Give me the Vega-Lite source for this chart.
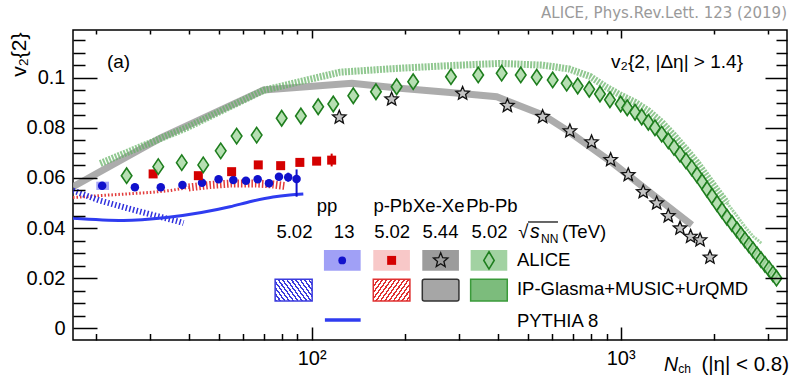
{
"$schema":"https://vega.github.io/schema/vega-lite/v6.json",
"width":714,"height":310,
"autosize":{"type":"none"},
"padding":{"left":73,"top":30,"right":5,"bottom":37},
"background":"white",
"title":{"text":"ALICE, Phys.Rev.Lett. 123 (2019)","anchor":"end","frame":"group","font":"DejaVu Sans","fontSize":15,"fontWeight":"normal","color":"#9a9a9a","baseline":"alphabetic","offset":11,"dy":15},
"config":{"view":{"stroke":"#000000","strokeWidth":1.5},"axis":{"grid":false,"domain":false,"labelFont":"Liberation Sans","titleFont":"Liberation Sans","labelColor":"#000000","titleColor":"#000000","tickColor":"#000000","tickWidth":1.5,"titleFontWeight":"normal"},"text":{"font":"Liberation Sans","color":"#000000"}},
"resolve":{"axis":{"x":"independent","y":"independent"}},
"datasets":{
"XeModel":[{"N":16.9,"v":0.0565},{"N":32.5,"v":0.076},{"N":70,"v":0.0951},{"N":135,"v":0.0978},{"N":193,"v":0.0958},{"N":287,"v":0.094},{"N":397,"v":0.0924},{"N":562,"v":0.0851},{"N":669,"v":0.0791},{"N":946,"v":0.0658},{"N":1275,"v":0.0532},{"N":1700,"v":0.0412}],
"PbModel":[{"N":20.7,"v":0.0658},{"N":39.4,"v":0.08},{"N":70,"v":0.095},{"N":123.5,"v":0.1022},{"N":188,"v":0.1037},{"N":300,"v":0.105},{"N":407,"v":0.1057},{"N":560,"v":0.105},{"N":680,"v":0.1035},{"N":796,"v":0.1005},{"N":900,"v":0.0962},{"N":1000,"v":0.093},{"N":1113,"v":0.0902},{"N":1229,"v":0.0868},{"N":1358,"v":0.0822},{"N":1488,"v":0.077},{"N":1627,"v":0.0715},{"N":1766,"v":0.0662},{"N":1903,"v":0.0607},{"N":2050,"v":0.0552},{"N":2208,"v":0.05},{"N":2379,"v":0.0448},{"N":2525,"v":0.0405},{"N":2681,"v":0.0367},{"N":2852,"v":0.034}],
"pPbModel":[{"N":16.9,"v":0.0522},{"N":21,"v":0.053},{"N":30,"v":0.0542},{"N":35,"v":0.055},{"N":40,"v":0.0562},{"N":47,"v":0.0572},{"N":55,"v":0.0578},{"N":66,"v":0.0578},{"N":75,"v":0.0574},{"N":82,"v":0.0568}],
"ppModel":[{"N":16.9,"v":0.055},{"N":20.6,"v":0.051},{"N":25.2,"v":0.048},{"N":30.7,"v":0.0452},{"N":36.6,"v":0.0428},{"N":38.5,"v":0.042}],
"pythia":[{"N":16.9,"v":0.0439},{"N":24.6,"v":0.043},{"N":33.9,"v":0.0442},{"N":44,"v":0.0462},{"N":54.4,"v":0.0485},{"N":64,"v":0.0507},{"N":75,"v":0.0524},{"N":85,"v":0.0532},{"N":94,"v":0.0536}],
"pp13":[{"N":21,"v":0.0569,"lo":0.0561,"hi":0.0577},{"N":26.8,"v":0.0563,"lo":0.0558,"hi":0.0568},{"N":32.5,"v":0.0563,"lo":0.0558,"hi":0.0568},{"N":38.2,"v":0.0572,"lo":0.0567,"hi":0.0577},{"N":44.2,"v":0.0581,"lo":0.0576,"hi":0.0586},{"N":50,"v":0.0595,"lo":0.0589,"hi":0.0601},{"N":55.8,"v":0.0592,"lo":0.0586,"hi":0.0598},{"N":61.3,"v":0.0589,"lo":0.0582,"hi":0.0596},{"N":66.9,"v":0.0595,"lo":0.0587,"hi":0.0603},{"N":72.8,"v":0.0579,"lo":0.057,"hi":0.0588},{"N":78.4,"v":0.0605,"lo":0.0593,"hi":0.0617},{"N":84,"v":0.0603,"lo":0.0585,"hi":0.0621},{"N":89.4,"v":0.0596,"lo":0.0525,"hi":0.0634}],
"ppSys":[{"N1":20.1,"N2":22.1,"v1":0.0552,"v2":0.0585}],
"pPb":[{"N":30.7,"v":0.0616,"lo":0.061,"hi":0.0622},{"N":43,"v":0.0609,"lo":0.0603,"hi":0.0615},{"N":55.1,"v":0.0625,"lo":0.0619,"hi":0.0631},{"N":67.2,"v":0.0652,"lo":0.0646,"hi":0.0658},{"N":79.4,"v":0.0649,"lo":0.0643,"hi":0.0655},{"N":91.6,"v":0.0662,"lo":0.0655,"hi":0.0669},{"N":103.8,"v":0.0667,"lo":0.0659,"hi":0.0675},{"N":116.1,"v":0.0671,"lo":0.0646,"hi":0.0697}],
"XeXe":[{"N":122.9,"v":0.0842},{"N":181.5,"v":0.0914},{"N":308,"v":0.0937},{"N":430,"v":0.0888},{"N":559,"v":0.0844},{"N":685,"v":0.0787},{"N":805,"v":0.0743},{"N":928,"v":0.0672},{"N":1058,"v":0.0612},{"N":1183,"v":0.0544},{"N":1308,"v":0.0499},{"N":1426,"v":0.0448},{"N":1556,"v":0.0399},{"N":1684,"v":0.0366},{"N":1807,"v":0.0352},{"N":1945,"v":0.0283}],
"PbPb":[{"N":25.2,"v":0.0609},{"N":31.9,"v":0.0645},{"N":38,"v":0.0661},{"N":44.6,"v":0.0652},{"N":50.8,"v":0.0708},{"N":57.2,"v":0.0767},{"N":66.4,"v":0.0771},{"N":80,"v":0.0838},{"N":92.3,"v":0.0847},{"N":105,"v":0.0884},{"N":117.5,"v":0.0895},{"N":136.4,"v":0.0928},{"N":161.5,"v":0.0944},{"N":188.4,"v":0.0964},{"N":213.1,"v":0.0984},{"N":282.4,"v":0.1004},{"N":346,"v":0.1011},{"N":412,"v":0.1018},{"N":475,"v":0.1011},{"N":535,"v":0.1002},{"N":602.6,"v":0.0991},{"N":668.8,"v":0.0978},{"N":726,"v":0.0967},{"N":791.3,"v":0.0954},{"N":857,"v":0.0935},{"N":923,"v":0.0912},{"N":1000,"v":0.0895},{"N":1050,"v":0.088},{"N":1113,"v":0.0862},{"N":1170,"v":0.0843},{"N":1229,"v":0.0822},{"N":1291,"v":0.08},{"N":1358,"v":0.0775},{"N":1426,"v":0.0748},{"N":1488,"v":0.0722},{"N":1556,"v":0.0695},{"N":1627,"v":0.0668},{"N":1698,"v":0.064},{"N":1766,"v":0.0612},{"N":1833,"v":0.0585},{"N":1903,"v":0.0555},{"N":1975,"v":0.0527},{"N":2050,"v":0.0498},{"N":2128,"v":0.047},{"N":2208,"v":0.0443},{"N":2292,"v":0.0418},{"N":2379,"v":0.0393},{"N":2451,"v":0.0373},{"N":2525,"v":0.0353},{"N":2602,"v":0.0333},{"N":2681,"v":0.0313},{"N":2762,"v":0.0293},{"N":2845,"v":0.0274},{"N":2931,"v":0.0255},{"N":3020,"v":0.0237},{"N":3111,"v":0.0217},{"N":3193,"v":0.02}],
"legBoxes":[{"key":"pp13","N1":109.6,"N2":144.1,"v1":0.023,"v2":0.03125},{"key":"pPb","N1":158.3,"N2":208,"v1":0.023,"v2":0.03125},{"key":"XeXe","N1":228.1,"N2":299.7,"v1":0.023,"v2":0.03125},{"key":"PbPb","N1":327,"N2":429.6,"v1":0.023,"v2":0.03125},{"key":"pp502m","N1":76.2,"N2":100.4,"v1":0.0109,"v2":0.01955},{"key":"pPbm","N1":158.3,"N2":208,"v1":0.0109,"v2":0.01955},{"key":"XeXem","N1":228.1,"N2":299.7,"v1":0.0109,"v2":0.01955},{"key":"PbPbm","N1":327,"N2":429.6,"v1":0.0109,"v2":0.01955}],
"legMarks":[{"key":"pp","N":125.6,"v":0.0271},{"key":"pPb","N":181.5,"v":0.0271},{"key":"XeXe","N":261.6,"v":0.0271},{"key":"PbPb","N":374.9,"v":0.0271}],
"legLines":[{"key":"pythia","N1":110.4,"N2":144.1,"v":0.0033},{"key":"sqrt","N1":501.2,"N2":626.8,"v":0.04242}],
"legHead":[{"label":"pp","N":112.1,"v":0.04653},{"label":"p-Pb","N":183.3,"v":0.04653},{"label":"Xe-Xe","N":257.8,"v":0.04653},{"label":"Pb-Pb","N":383.2,"v":0.04653},{"label":"5.02","N":87.97,"v":0.03591},{"label":"13","N":127.4,"v":0.03591},{"label":"5.02","N":182.2,"v":0.03591},{"label":"5.44","N":261.1,"v":0.03591},{"label":"5.02","N":376.2,"v":0.03591}],
"legLabels":[{"label":"ALICE","N":461.7,"v":0.02486},{"label":"IP-Glasma+MUSIC+UrQMD","N":461.7,"v":0.01329},{"label":"PYTHIA 8","N":461.7,"v":0.00064},{"label":"(TeV)","N":645.7,"v":0.03591},{"label":"√","N":466.3,"v":0.03591}],
"italics":[{"label":"s","N":508.7,"v":0.03591},{"label":"N","N":1380,"v":-0.01692}],
"subs":[{"label":"NN","N":552.2,"v":0.03384},{"label":"ch","N":1535,"v":-0.01784}],
"annotL":[{"label":"(a)","N":21.76,"v":0.1061}],
"annotR":[{"label":"v₂{2, |Δη| > 1.4}","N":2488,"v":0.1061}]
},
"layer":[
{"data":{"name":"XeModel"},"mark":{"type":"line","stroke":"#a3a3a3","strokeWidth":7,"strokeOpacity":0.9,"clip":true},
"encoding":{"x":{"field":"N","type":"quantitative","scale":{"type":"log","domain":[16.9,3453],"nice":false},"axis":{"orient":"bottom","values":[100,1000],"labelExpr":"datum.value < 500 ? '10²' : '10³'","ticks":false,"labelPadding":8.5,"labelFontSize":20,"labelFlush":false,"labelOverlap":false,"title":"(|η| < 0.8)","titleFontSize":20.5,"titleX":715.5,"titleY":30.7,"titleAlign":"right","titleAnchor":"end","titleBaseline":"alphabetic"}},
"y":{"field":"v","type":"quantitative","scale":{"domain":[-0.00467,0.11903],"nice":false,"zero":false},"axis":{"orient":"left","values":[0,0.02,0.04,0.06,0.08,0.1],"format":"~g","ticks":false,"labelPadding":8,"labelFontSize":20,"labelFlush":false,"labelOverlap":false,"title":"v₂{2}","titleFontSize":21,"titleX":-48,"titleY":2,"titleAlign":"right","titleAngle":-90,"titleBaseline":"alphabetic"}}}},
{"data":{"name":"PbModel"},"transform":[{"filter":"datum.N <= 2210"}],"mark":{"type":"line","stroke":"#62b062","strokeWidth":7,"strokeOpacity":0.7,"strokeDash":[2,1.2],"clip":true},
"encoding":{"x":{"field":"N","type":"quantitative","scale":{"type":"log","domain":[16.9,3453],"nice":false},"axis":{"orient":"bottom","values":[100,1000],"labels":false,"tickSize":-13,"title":null,"zindex":1}},
"y":{"field":"v","type":"quantitative","scale":{"domain":[-0.00467,0.11903],"nice":false,"zero":false},"axis":{"orient":"left","values":[0,0.02,0.04,0.06,0.08,0.1],"labels":false,"tickSize":-24,"title":null,"zindex":1}}}},
{"data":{"name":"PbModel"},"transform":[{"filter":"datum.N >= 2200"}],"mark":{"type":"line","stroke":"#7cc07c","strokeWidth":3,"strokeOpacity":0.7,"strokeDash":[2,1],"clip":true},
"encoding":{"x":{"field":"N","type":"quantitative","scale":{"type":"log","domain":[16.9,3453],"nice":false},"axis":{"orient":"bottom","values":[20,30,40,50,60,70,80,90,200,300,400,500,600,700,800,900,2000,3000],"labels":false,"tickSize":-6.5,"title":null,"zindex":1}},
"y":{"field":"v","type":"quantitative","scale":{"domain":[-0.00467,0.11903],"nice":false,"zero":false},"axis":{"orient":"left","values":[0.005,0.01,0.015,0.025,0.03,0.035,0.045,0.05,0.055,0.065,0.07,0.075,0.085,0.09,0.095,0.105,0.11,0.115],"labels":false,"tickSize":-12,"title":null,"zindex":1}}}},
{"data":{"name":"pPbModel"},"transform":[{"filter":"datum.N <= 40"}],"mark":{"type":"line","stroke":"#e23a3a","strokeWidth":3,"strokeDash":[1.5,2],"clip":true},
"encoding":{"x":{"field":"N","type":"quantitative","scale":{"type":"log","domain":[16.9,3453],"nice":false},"axis":{"orient":"top","values":[100,1000],"labels":false,"tickSize":-8,"title":null,"zindex":1}},
"y":{"field":"v","type":"quantitative","scale":{"domain":[-0.00467,0.11903],"nice":false,"zero":false},"axis":{"orient":"right","values":[0,0.02,0.04,0.06,0.08,0.1],"labels":false,"tickSize":-22,"title":null,"zindex":1}}}},
{"data":{"name":"pPbModel"},"transform":[{"filter":"datum.N >= 40"}],"mark":{"type":"line","stroke":"#e23a3a","strokeWidth":8,"strokeDash":[1.5,2],"clip":true},
"encoding":{"x":{"field":"N","type":"quantitative","scale":{"type":"log","domain":[16.9,3453],"nice":false},"axis":{"orient":"top","values":[20,30,40,50,60,70,80,90,200,300,400,500,600,700,800,900,2000,3000],"labels":false,"tickSize":-4,"title":null,"zindex":1}},
"y":{"field":"v","type":"quantitative","scale":{"domain":[-0.00467,0.11903],"nice":false,"zero":false},"axis":{"orient":"right","values":[0.005,0.01,0.015,0.025,0.03,0.035,0.045,0.05,0.055,0.065,0.07,0.075,0.085,0.09,0.095,0.105,0.11,0.115],"labels":false,"tickSize":-11,"title":null,"zindex":1}}}},
{"data":{"name":"ppModel"},"mark":{"type":"line","stroke":"#3030dd","strokeWidth":6,"strokeDash":[1.5,2.2],"clip":true},
"encoding":{"x":{"field":"N","type":"quantitative","scale":{"type":"log","domain":[16.9,3453],"nice":false},"axis":null},"y":{"field":"v","type":"quantitative","scale":{"domain":[-0.00467,0.11903],"nice":false,"zero":false},"axis":null}}},
{"data":{"name":"pythia"},"mark":{"type":"line","stroke":"#2f3cf0","strokeWidth":3,"interpolate":"monotone","clip":true},
"encoding":{"x":{"field":"N","type":"quantitative","scale":{"type":"log","domain":[16.9,3453],"nice":false},"axis":null},"y":{"field":"v","type":"quantitative","scale":{"domain":[-0.00467,0.11903],"nice":false,"zero":false},"axis":null}}},
{"data":{"name":"ppSys"},"mark":{"type":"rect","fill":"#a8a8f5"},
"encoding":{"x":{"field":"N1","type":"quantitative","scale":{"type":"log","domain":[16.9,3453],"nice":false},"axis":null},"x2":{"field":"N2"},"y":{"field":"v1","type":"quantitative","scale":{"domain":[-0.00467,0.11903],"nice":false,"zero":false},"axis":null},"y2":{"field":"v2"}}},
{"data":{"name":"pp13"},"mark":{"type":"rule","stroke":"#1111cc","strokeWidth":2},
"encoding":{"x":{"field":"N","type":"quantitative","scale":{"type":"log","domain":[16.9,3453],"nice":false},"axis":null},"y":{"field":"lo","type":"quantitative","scale":{"domain":[-0.00467,0.11903],"nice":false,"zero":false},"axis":null},"y2":{"field":"hi"}}},
{"data":{"name":"pp13"},"mark":{"type":"point","shape":"circle","filled":true,"size":72,"color":"#1111cc","opacity":1},
"encoding":{"x":{"field":"N","type":"quantitative","scale":{"type":"log","domain":[16.9,3453],"nice":false},"axis":null},"y":{"field":"v","type":"quantitative","scale":{"domain":[-0.00467,0.11903],"nice":false,"zero":false},"axis":null}}},
{"data":{"name":"pPb"},"mark":{"type":"rule","stroke":"#d40000","strokeWidth":2},
"encoding":{"x":{"field":"N","type":"quantitative","scale":{"type":"log","domain":[16.9,3453],"nice":false},"axis":null},"y":{"field":"lo","type":"quantitative","scale":{"domain":[-0.00467,0.11903],"nice":false,"zero":false},"axis":null},"y2":{"field":"hi"}}},
{"data":{"name":"pPb"},"mark":{"type":"point","shape":"square","filled":true,"size":81,"color":"#d40000","opacity":1},
"encoding":{"x":{"field":"N","type":"quantitative","scale":{"type":"log","domain":[16.9,3453],"nice":false},"axis":null},"y":{"field":"v","type":"quantitative","scale":{"domain":[-0.00467,0.11903],"nice":false,"zero":false},"axis":null}}},
{"data":{"name":"XeXe"},"mark":{"type":"point","shape":"M0,-1L0.26,-0.36L0.951,-0.309L0.42,0.137L0.588,0.809L0,0.44L-0.588,0.809L-0.42,0.137L-0.951,-0.309L-0.26,-0.36Z","filled":true,"size":200,"fill":"#c4c4c4","stroke":"#111111","strokeWidth":1.3,"opacity":1},
"encoding":{"x":{"field":"N","type":"quantitative","scale":{"type":"log","domain":[16.9,3453],"nice":false},"axis":null},"y":{"field":"v","type":"quantitative","scale":{"domain":[-0.00467,0.11903],"nice":false,"zero":false},"axis":null}}},
{"data":{"name":"PbPb"},"mark":{"type":"point","shape":"M0,-1L0.68,0L0,1L-0.68,0Z","filled":true,"size":240,"fill":"#a9d9a4","fillOpacity":0.85,"stroke":"#1e7e1e","strokeWidth":1.6,"strokeOpacity":1},
"encoding":{"x":{"field":"N","type":"quantitative","scale":{"type":"log","domain":[16.9,3453],"nice":false},"axis":null},"y":{"field":"v","type":"quantitative","scale":{"domain":[-0.00467,0.11903],"nice":false,"zero":false},"axis":null}}},
{"data":{"name":"legBoxes"},"transform":[{"filter":"indexof(['pp13','pPb','XeXe','PbPb'], datum.key) >= 0"}],"mark":{"type":"rect","opacity":1},
"encoding":{"x":{"field":"N1","type":"quantitative","scale":{"type":"log","domain":[16.9,3453],"nice":false},"axis":null},"x2":{"field":"N2"},"y":{"field":"v1","type":"quantitative","scale":{"domain":[-0.00467,0.11903],"nice":false,"zero":false},"axis":null},"y2":{"field":"v2"},
"color":{"field":"key","type":"nominal","scale":{"domain":["pp13","pPb","XeXe","PbPb"],"range":["#a0a0f6","#f8c8c8","#9c9c9c","#a2d2a2"]},"legend":null}}},
{"data":{"name":"legBoxes"},"transform":[{"filter":"datum.key == 'pp502m'"}],"mark":{"type":"rect","stroke":"#3b3bde","strokeWidth":1.5,"fill":{"gradient":"linear","x1":0,"y1":1,"x2":1.205,"y2":0.489,"stops":[{"offset":0,"color":"#3b3bde"},{"offset":0.033,"color":"#3b3bde"},{"offset":0.033,"color":"#ffffff"},{"offset":0.083,"color":"#ffffff"},{"offset":0.083,"color":"#3b3bde"},{"offset":0.117,"color":"#3b3bde"},{"offset":0.117,"color":"#ffffff"},{"offset":0.167,"color":"#ffffff"},{"offset":0.167,"color":"#3b3bde"},{"offset":0.2,"color":"#3b3bde"},{"offset":0.2,"color":"#ffffff"},{"offset":0.25,"color":"#ffffff"},{"offset":0.25,"color":"#3b3bde"},{"offset":0.283,"color":"#3b3bde"},{"offset":0.283,"color":"#ffffff"},{"offset":0.333,"color":"#ffffff"},{"offset":0.333,"color":"#3b3bde"},{"offset":0.367,"color":"#3b3bde"},{"offset":0.367,"color":"#ffffff"},{"offset":0.417,"color":"#ffffff"},{"offset":0.417,"color":"#3b3bde"},{"offset":0.45,"color":"#3b3bde"},{"offset":0.45,"color":"#ffffff"},{"offset":0.5,"color":"#ffffff"},{"offset":0.5,"color":"#3b3bde"},{"offset":0.533,"color":"#3b3bde"},{"offset":0.533,"color":"#ffffff"},{"offset":0.583,"color":"#ffffff"},{"offset":0.583,"color":"#3b3bde"},{"offset":0.617,"color":"#3b3bde"},{"offset":0.617,"color":"#ffffff"},{"offset":0.667,"color":"#ffffff"},{"offset":0.667,"color":"#3b3bde"},{"offset":0.7,"color":"#3b3bde"},{"offset":0.7,"color":"#ffffff"},{"offset":0.75,"color":"#ffffff"},{"offset":0.75,"color":"#3b3bde"},{"offset":0.783,"color":"#3b3bde"},{"offset":0.783,"color":"#ffffff"},{"offset":0.833,"color":"#ffffff"},{"offset":0.833,"color":"#3b3bde"},{"offset":0.867,"color":"#3b3bde"},{"offset":0.867,"color":"#ffffff"},{"offset":0.917,"color":"#ffffff"},{"offset":0.917,"color":"#3b3bde"},{"offset":0.95,"color":"#3b3bde"},{"offset":0.95,"color":"#ffffff"},{"offset":1,"color":"#ffffff"}]}},
"encoding":{"x":{"field":"N1","type":"quantitative","scale":{"type":"log","domain":[16.9,3453],"nice":false},"axis":null},"x2":{"field":"N2"},"y":{"field":"v1","type":"quantitative","scale":{"domain":[-0.00467,0.11903],"nice":false,"zero":false},"axis":null},"y2":{"field":"v2"}}},
{"data":{"name":"legBoxes"},"transform":[{"filter":"datum.key == 'pPbm'"}],"mark":{"type":"rect","stroke":"#e03030","strokeWidth":1.5,"fill":{"gradient":"linear","x1":0,"y1":0,"x2":1.205,"y2":0.511,"stops":[{"offset":0,"color":"#e03030"},{"offset":0.033,"color":"#e03030"},{"offset":0.033,"color":"#ffffff"},{"offset":0.083,"color":"#ffffff"},{"offset":0.083,"color":"#e03030"},{"offset":0.117,"color":"#e03030"},{"offset":0.117,"color":"#ffffff"},{"offset":0.167,"color":"#ffffff"},{"offset":0.167,"color":"#e03030"},{"offset":0.2,"color":"#e03030"},{"offset":0.2,"color":"#ffffff"},{"offset":0.25,"color":"#ffffff"},{"offset":0.25,"color":"#e03030"},{"offset":0.283,"color":"#e03030"},{"offset":0.283,"color":"#ffffff"},{"offset":0.333,"color":"#ffffff"},{"offset":0.333,"color":"#e03030"},{"offset":0.367,"color":"#e03030"},{"offset":0.367,"color":"#ffffff"},{"offset":0.417,"color":"#ffffff"},{"offset":0.417,"color":"#e03030"},{"offset":0.45,"color":"#e03030"},{"offset":0.45,"color":"#ffffff"},{"offset":0.5,"color":"#ffffff"},{"offset":0.5,"color":"#e03030"},{"offset":0.533,"color":"#e03030"},{"offset":0.533,"color":"#ffffff"},{"offset":0.583,"color":"#ffffff"},{"offset":0.583,"color":"#e03030"},{"offset":0.617,"color":"#e03030"},{"offset":0.617,"color":"#ffffff"},{"offset":0.667,"color":"#ffffff"},{"offset":0.667,"color":"#e03030"},{"offset":0.7,"color":"#e03030"},{"offset":0.7,"color":"#ffffff"},{"offset":0.75,"color":"#ffffff"},{"offset":0.75,"color":"#e03030"},{"offset":0.783,"color":"#e03030"},{"offset":0.783,"color":"#ffffff"},{"offset":0.833,"color":"#ffffff"},{"offset":0.833,"color":"#e03030"},{"offset":0.867,"color":"#e03030"},{"offset":0.867,"color":"#ffffff"},{"offset":0.917,"color":"#ffffff"},{"offset":0.917,"color":"#e03030"},{"offset":0.95,"color":"#e03030"},{"offset":0.95,"color":"#ffffff"},{"offset":1,"color":"#ffffff"}]}},
"encoding":{"x":{"field":"N1","type":"quantitative","scale":{"type":"log","domain":[16.9,3453],"nice":false},"axis":null},"x2":{"field":"N2"},"y":{"field":"v1","type":"quantitative","scale":{"domain":[-0.00467,0.11903],"nice":false,"zero":false},"axis":null},"y2":{"field":"v2"}}},
{"data":{"name":"legBoxes"},"transform":[{"filter":"datum.key == 'XeXem'"}],"mark":{"type":"rect","fill":"#a6a6a6","stroke":"#333333","strokeWidth":1.5,"cornerRadius":2},
"encoding":{"x":{"field":"N1","type":"quantitative","scale":{"type":"log","domain":[16.9,3453],"nice":false},"axis":null},"x2":{"field":"N2"},"y":{"field":"v1","type":"quantitative","scale":{"domain":[-0.00467,0.11903],"nice":false,"zero":false},"axis":null},"y2":{"field":"v2"}}},
{"data":{"name":"legBoxes"},"transform":[{"filter":"datum.key == 'PbPbm'"}],"mark":{"type":"rect","fill":"#7cbc7c","stroke":"#3a9a3a","strokeWidth":1.5},
"encoding":{"x":{"field":"N1","type":"quantitative","scale":{"type":"log","domain":[16.9,3453],"nice":false},"axis":null},"x2":{"field":"N2"},"y":{"field":"v1","type":"quantitative","scale":{"domain":[-0.00467,0.11903],"nice":false,"zero":false},"axis":null},"y2":{"field":"v2"}}},
{"data":{"name":"legMarks"},"transform":[{"filter":"datum.key == 'pp'"}],"mark":{"type":"point","shape":"circle","filled":true,"size":60,"color":"#1111cc","opacity":1},
"encoding":{"x":{"field":"N","type":"quantitative","scale":{"type":"log","domain":[16.9,3453],"nice":false},"axis":null},"y":{"field":"v","type":"quantitative","scale":{"domain":[-0.00467,0.11903],"nice":false,"zero":false},"axis":null}}},
{"data":{"name":"legMarks"},"transform":[{"filter":"datum.key == 'pPb'"}],"mark":{"type":"point","shape":"square","filled":true,"size":80,"color":"#d40000","opacity":1},
"encoding":{"x":{"field":"N","type":"quantitative","scale":{"type":"log","domain":[16.9,3453],"nice":false},"axis":null},"y":{"field":"v","type":"quantitative","scale":{"domain":[-0.00467,0.11903],"nice":false,"zero":false},"axis":null}}},
{"data":{"name":"legMarks"},"transform":[{"filter":"datum.key == 'XeXe'"}],"mark":{"type":"point","shape":"M0,-1L0.26,-0.36L0.951,-0.309L0.42,0.137L0.588,0.809L0,0.44L-0.588,0.809L-0.42,0.137L-0.951,-0.309L-0.26,-0.36Z","filled":false,"size":230,"stroke":"#111111","strokeWidth":1.3,"opacity":1},
"encoding":{"x":{"field":"N","type":"quantitative","scale":{"type":"log","domain":[16.9,3453],"nice":false},"axis":null},"y":{"field":"v","type":"quantitative","scale":{"domain":[-0.00467,0.11903],"nice":false,"zero":false},"axis":null}}},
{"data":{"name":"legMarks"},"transform":[{"filter":"datum.key == 'PbPb'"}],"mark":{"type":"point","shape":"M0,-1L0.6,0L0,1L-0.6,0Z","filled":false,"size":300,"stroke":"#1e7e1e","strokeWidth":1.6,"opacity":1},
"encoding":{"x":{"field":"N","type":"quantitative","scale":{"type":"log","domain":[16.9,3453],"nice":false},"axis":null},"y":{"field":"v","type":"quantitative","scale":{"domain":[-0.00467,0.11903],"nice":false,"zero":false},"axis":null}}},
{"data":{"name":"legLines"},"transform":[{"filter":"datum.key == 'pythia'"}],"mark":{"type":"rule","stroke":"#2f3cf0","strokeWidth":3.5},
"encoding":{"x":{"field":"N1","type":"quantitative","scale":{"type":"log","domain":[16.9,3453],"nice":false},"axis":null},"x2":{"field":"N2"},"y":{"field":"v","type":"quantitative","scale":{"domain":[-0.00467,0.11903],"nice":false,"zero":false},"axis":null}}},
{"data":{"name":"legLines"},"transform":[{"filter":"datum.key == 'sqrt'"}],"mark":{"type":"rule","stroke":"#000000","strokeWidth":1.2},
"encoding":{"x":{"field":"N1","type":"quantitative","scale":{"type":"log","domain":[16.9,3453],"nice":false},"axis":null},"x2":{"field":"N2"},"y":{"field":"v","type":"quantitative","scale":{"domain":[-0.00467,0.11903],"nice":false,"zero":false},"axis":null}}},
{"data":{"name":"legHead"},"mark":{"type":"text","align":"center","baseline":"alphabetic","fontSize":18.5,"font":"Liberation Sans","color":"#000000"},
"encoding":{"x":{"field":"N","type":"quantitative","scale":{"type":"log","domain":[16.9,3453],"nice":false},"axis":null},"y":{"field":"v","type":"quantitative","scale":{"domain":[-0.00467,0.11903],"nice":false,"zero":false},"axis":null},"text":{"field":"label"}}},
{"data":{"name":"legLabels"},"mark":{"type":"text","align":"left","baseline":"alphabetic","fontSize":18.5,"font":"Liberation Sans","color":"#000000"},
"encoding":{"x":{"field":"N","type":"quantitative","scale":{"type":"log","domain":[16.9,3453],"nice":false},"axis":null},"y":{"field":"v","type":"quantitative","scale":{"domain":[-0.00467,0.11903],"nice":false,"zero":false},"axis":null},"text":{"field":"label"}}},
{"data":{"name":"italics"},"mark":{"type":"text","align":"left","baseline":"alphabetic","fontSize":19.5,"fontStyle":"italic","font":"Liberation Sans","color":"#000000","clip":false},
"encoding":{"x":{"field":"N","type":"quantitative","scale":{"type":"log","domain":[16.9,3453],"nice":false},"axis":null},"y":{"field":"v","type":"quantitative","scale":{"domain":[-0.00467,0.11903],"nice":false,"zero":false},"axis":null},"text":{"field":"label"}}},
{"data":{"name":"subs"},"mark":{"type":"text","align":"left","baseline":"alphabetic","fontSize":12,"font":"Liberation Sans","color":"#000000","clip":false},
"encoding":{"x":{"field":"N","type":"quantitative","scale":{"type":"log","domain":[16.9,3453],"nice":false},"axis":null},"y":{"field":"v","type":"quantitative","scale":{"domain":[-0.00467,0.11903],"nice":false,"zero":false},"axis":null},"text":{"field":"label"}}},
{"data":{"name":"annotL"},"mark":{"type":"text","align":"left","baseline":"middle","fontSize":19,"font":"Liberation Sans","color":"#000000"},
"encoding":{"x":{"field":"N","type":"quantitative","scale":{"type":"log","domain":[16.9,3453],"nice":false},"axis":null},"y":{"field":"v","type":"quantitative","scale":{"domain":[-0.00467,0.11903],"nice":false,"zero":false},"axis":null},"text":{"field":"label"}}},
{"data":{"name":"annotR"},"mark":{"type":"text","align":"right","baseline":"middle","fontSize":19,"font":"Liberation Sans","color":"#000000"},
"encoding":{"x":{"field":"N","type":"quantitative","scale":{"type":"log","domain":[16.9,3453],"nice":false},"axis":null},"y":{"field":"v","type":"quantitative","scale":{"domain":[-0.00467,0.11903],"nice":false,"zero":false},"axis":null},"text":{"field":"label"}}}
]
}
